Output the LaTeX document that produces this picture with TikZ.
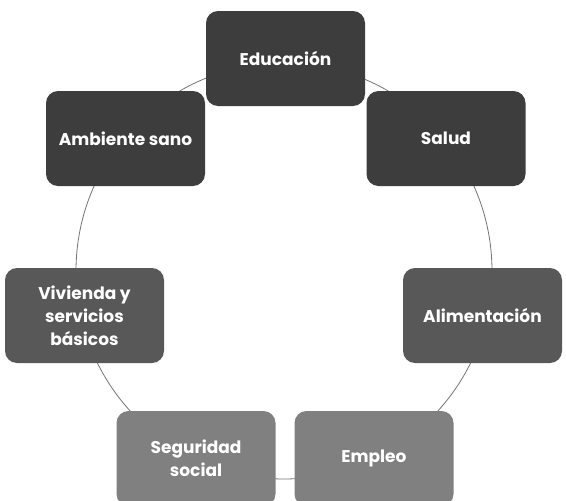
\documentclass[tikz,border=0pt]{standalone}
\usepackage{fontspec}
\setmainfont{Poppins}
\definecolor{darkbox}{RGB}{61,61,61}
\definecolor{midbox}{RGB}{88,88,88}
\definecolor{lightbox}{RGB}{128,128,128}
\begin{document}
\begin{tikzpicture}[x=1pt, y=1pt,
  every node/.style={font=\bfseries\fontsize{17}{23}\selectfont, text=white},
  itembox/.style={rounded corners=12pt, minimum width=159pt, minimum height=95pt, align=center, inner sep=2pt},
  ring/.style={draw=black!55, line width=0.8pt}]
\useasboundingbox (0,0) rectangle (566,-501);
\coordinate (c) at (284,-271);
\draw[ring] (c) circle (208);
\node[itembox, fill=darkbox] (educ) at (285.5,-58.5) {Educación};
\node[itembox, fill=darkbox] (salud) at (446,-138.5) {Salud};
\node[itembox, fill=midbox] (alim) at (482.5,-315.5) {Alimentación};
\node[itembox, fill=lightbox] (empleo) at (374,-458.5) {Empleo};
\node[itembox, fill=lightbox] (segur) at (196,-458.5) {Seguridad\\social};
\node[itembox, fill=midbox] (viv) at (84.5,-315.5) {Vivienda y\\servicios\\básicos};
\node[itembox, fill=darkbox] (amb) at (125.5,-138.5) {Ambiente sano};
\end{tikzpicture}
\end{document}
